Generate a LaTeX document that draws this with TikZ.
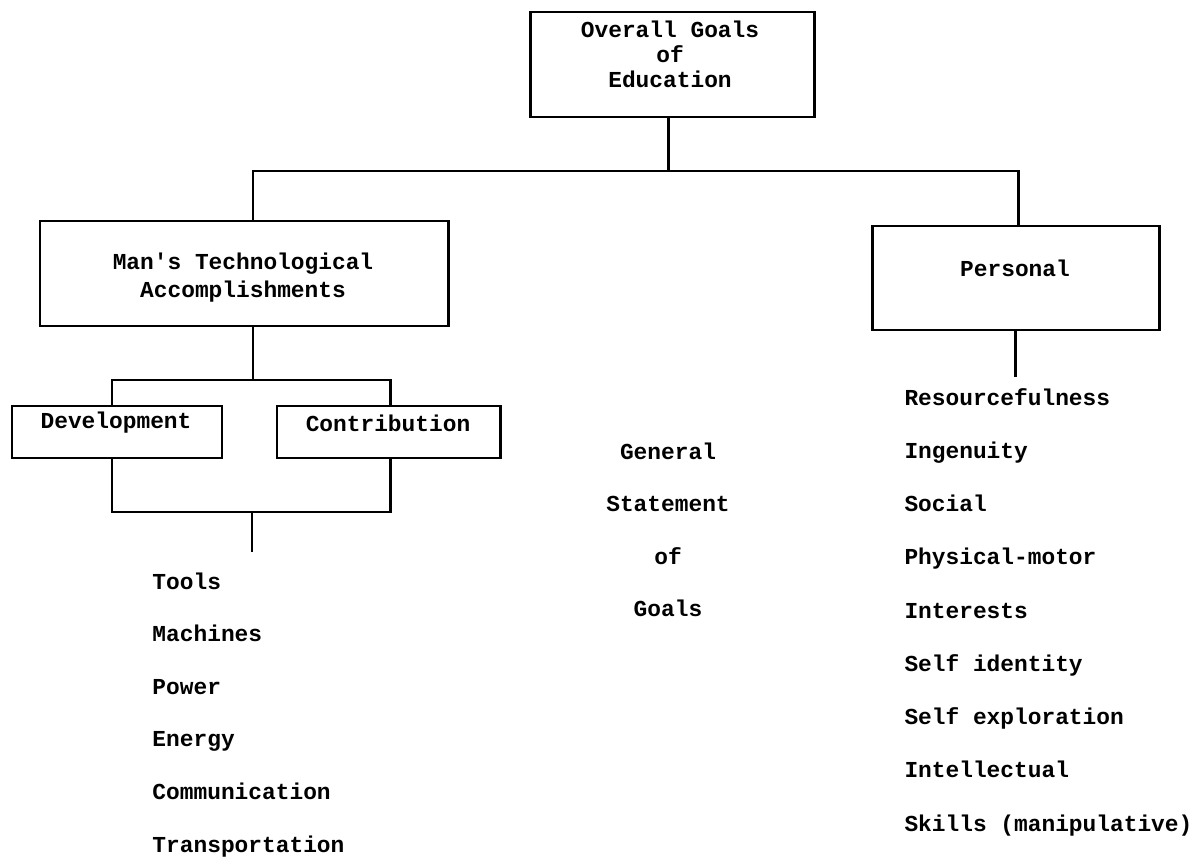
\documentclass[tikz,border=0pt]{standalone}
\usepackage{fontspec}
\newfontfamily\typewriter{Liberation Mono}

\begin{document}
\begin{tikzpicture}[line width=1.7pt,
    box/.style={draw, inner sep=0pt},
    txt/.style={font=\typewriter\bfseries\fontsize{13}{14.2}\selectfont, inner sep=0pt, align=center}]
    \useasboundingbox (0,0) rectangle (23.82,-17.18);
    \node[box, minimum width=5.68cm, minimum height=2.10cm] (goals) at (13.44,-1.29) {};
    \node[box, minimum width=8.16cm, minimum height=2.10cm] (mta) at (4.88,-5.47) {};
    \node[box, minimum width=5.74cm, minimum height=2.08cm] (personal) at (20.31,-5.56) {};
    \node[box, minimum width=4.20cm, minimum height=1.04cm] (dev) at (2.34,-8.64) {};
    \node[box, minimum width=4.46cm, minimum height=1.04cm] (contr) at (7.77,-8.64) {};
    \node[txt] (goalstxt) at (13.40,-1.08) {Overall Goals\\of\\Education};
    \node[txt] (mtatxt) at (4.86,-5.56) {Man\textquotesingle s Technological\\[1.7pt]Accomplishments};
    \node[txt] (perstxt) at (20.30,-5.36) {Personal};
    \node[txt] (devtxt) at (2.32,-8.46) {Development};
    \node[txt] (contrtxt) at (7.76,-8.46) {Contribution};
    \coordinate (busL) at (5.06,-3.42);
    \coordinate (busC) at (13.36,-3.42);
    \coordinate (busR) at (20.36,-3.42);
    \draw (goals.south -| busC) -- (busC);
    \draw (mta.north -| busL) -- (busL) -- (busR) -- (personal.north -| busR);
    \coordinate (subL) at (2.24,-7.60);
    \coordinate (subR) at (7.80,-7.60);
    \draw (mta.south -| busL) -- (busL |- subL);
    \draw (dev.north -| subL) -- (subL) -- (subR) -- (contr.north -| subR);
    \coordinate (lowL) at (2.24,-10.24);
    \coordinate (lowR) at (7.80,-10.24);
    \draw (dev.south -| lowL) -- (lowL) -- (lowR) -- (contr.south -| lowR);
    \coordinate (techend) at (5.04,-11.04);
    \draw (techend |- lowL) -- (techend);
    \coordinate (persend) at (20.30,-7.54);
    \draw (personal.south -| persend) -- (persend);
    \foreach \w [count=\i] in {Tools,Machines,Power,Energy,Communication,Transportation}
      \node[txt, anchor=base west] (tech\i) at (3.02,{-11.78-1.052*(\i-1)}) {\w};
    \foreach \w [count=\i] in {General,Statement,of,Goals}
      \node[txt, anchor=base] (gen\i) at (13.36,{-9.18-1.053*(\i-1)}) {\w};
    \foreach \w [count=\i] in {Resourcefulness,Ingenuity,Social,Physical-motor,Interests,Self identity,Self exploration,Intellectual,Skills (manipulative)}
      \node[txt, anchor=base west] (pers\i) at (18.06,{-8.10-1.065*(\i-1)}) {\w};
\end{tikzpicture}
\end{document}
